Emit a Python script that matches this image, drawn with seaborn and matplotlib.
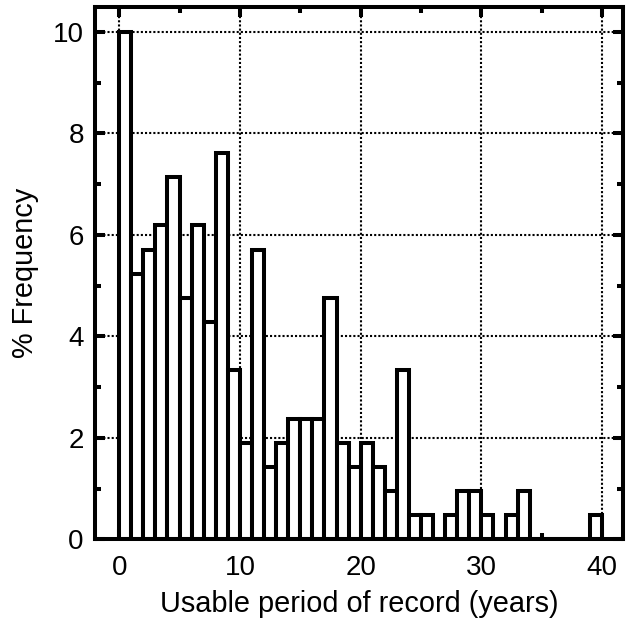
import numpy as np
import pandas as pd
import matplotlib
matplotlib.use('Agg')
import matplotlib.pyplot as plt
import seaborn as sns

# usable period of record, one bin per year (left edges 0..39)
years = np.arange(0, 40)
pct_freq = [10.0, 5.24, 5.71, 6.19, 7.14, 4.76, 6.19, 4.29, 7.62, 3.33,
            1.90, 5.71, 1.43, 1.90, 2.38, 2.38, 2.38, 4.76, 1.90, 1.43,
            1.90, 1.43, 0.95, 3.33, 0.48, 0.48, 0.0, 0.48, 0.95, 0.95,
            0.48, 0.0, 0.48, 0.95, 0.0, 0.0, 0.0, 0.0, 0.0, 0.48]

df = pd.DataFrame({'years': years, 'pct': pct_freq})

sns.set_style('ticks')
plt.rcParams['font.family'] = ['Liberation Sans', 'DejaVu Sans']

fig = plt.figure(figsize=(6.29, 6.36), dpi=100)
ax = fig.add_axes([0.151, 0.152, 0.839, 0.8375])

sns.histplot(data=df, x='years', weights='pct', bins=40, binrange=(0, 40),
             color='white', edgecolor='black', linewidth=2.9, alpha=1, ax=ax)

ax.set_xlim(-2, 41.7)
ax.set_ylim(0, 10.5)
ax.set_xticks(np.arange(0, 41, 10))
ax.set_xticks(np.arange(5, 41, 10), minor=True)
ax.set_yticks(np.arange(0, 11, 2))
ax.set_yticks(np.arange(1, 11, 2), minor=True)

ax.set_axisbelow(True)
ax.grid(True, which='major', linestyle=(0, (1, 1)), color='black', linewidth=1.5)

ax.tick_params(which='both', direction='in', top=True, right=True,
               width=2.9, color='black', labelsize=20, labelcolor='black')
ax.tick_params(which='major', length=7)
ax.tick_params(which='minor', length=4)
ax.tick_params(axis='y', pad=8)
ax.tick_params(axis='x', pad=11)

for sp in ax.spines.values():
    sp.set_linewidth(2.9)
    sp.set_color('black')

ax.set_xlabel('Usable period of record (years)', fontsize=20.8, color='black', labelpad=7)
ax.set_ylabel('% Frequency', fontsize=20.8, color='black', labelpad=10)

fig.savefig('out.png', dpi=100)
